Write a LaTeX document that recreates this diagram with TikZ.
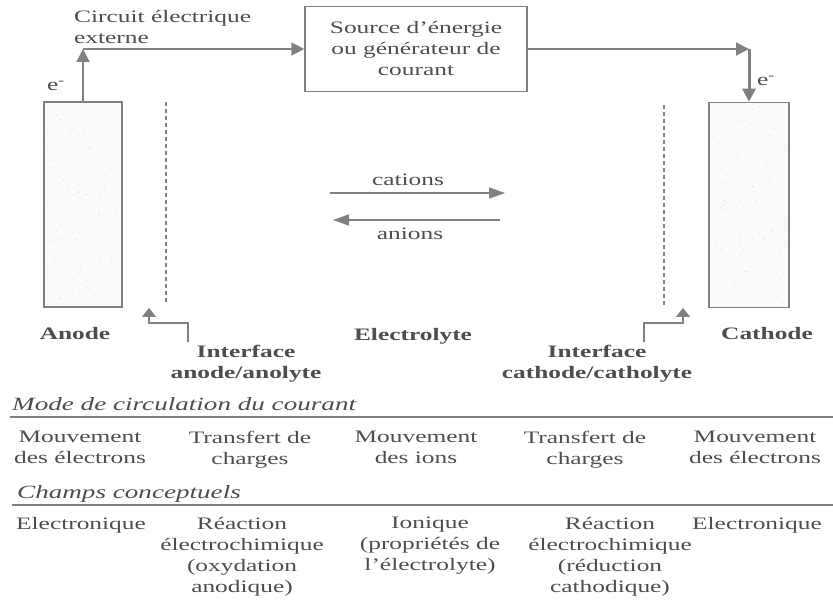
\documentclass[tikz,border=0pt]{standalone}
\usepackage{fontspec}
\setmainfont[FakeStretch=1.45]{Liberation Serif}
\usetikzlibrary{arrows.meta}
\definecolor{txt}{HTML}{4D4D4D}
\definecolor{ln}{HTML}{808080}
\newcommand\mainfs{\fontsize{17.5}{21}\selectfont}
\begin{document}
\begin{tikzpicture}[x=1pt,y=-1pt,
  every node/.style={inner sep=0pt,text=txt,font=\mainfs},
  wire/.style={draw=ln,line width=2pt,-{Triangle[length=13pt,width=13pt]}},
  ion/.style={draw=ln,line width=1.5pt,-{Triangle[length=16pt,width=11pt]}},
  ifarrow/.style={draw=ln,line width=2pt,-{Triangle[length=9pt,width=14pt]}},
  ifline/.style={draw=ln,line width=1.5pt,dash pattern=on 4pt off 3pt},
  rule/.style={draw=ln,line width=1.5pt},
  electrode/.style={draw=ln,line width=1.5pt,fill=white!96!gray,minimum width=#1,minimum height=205pt},
  boldlab/.style={font=\mainfs\bfseries},
  itlab/.style={font=\fontsize{18.7}{21}\selectfont\itshape,anchor=base west},
  col/.style={align=center,anchor=north}]
\useasboundingbox (0,0) rectangle (833,601);

% source box
\node[draw=ln,line width=1.5pt,minimum width=222pt,minimum height=85pt,align=center] (src) at (416,49) {Source d’énergie\\ou générateur de\\courant};

% electrodes
\node[electrode=78pt] (anode) at (83,204.5) {};
\node[electrode=80pt] (cathode) at (749,205) {};
\pgfmathsetseed{7}
\foreach \i in {1,...,220}{\fill[gray!22] ({47+72*rnd},{106+198*rnd}) circle (0.6pt);}
\foreach \i in {1,...,220}{\fill[gray!22] ({712+74*rnd},{106+198*rnd}) circle (0.6pt);}

% external circuit
\coordinate (cl) at (anode.north |- src.west);
\coordinate (cr) at (cathode.north |- src.east);
\draw[wire] (anode.north) -- (cl);
\draw[wire] (cl) -- (src.west);
\draw[wire] (src.east) -- (cr);
\draw[wire,line width=3pt] (cr) -- (cathode.north);
\node[anchor=north west,align=left] (circ) at (74,10.5) {Circuit électrique\\externe};
\node (el) at (56,86) {e\textsuperscript{-}};
\node (er) at (766,81) {e\textsuperscript{-}};

% interfaces (dashed)
\coordinate (dla) at (166,102);
\coordinate (dlb) at (166,304);
\coordinate (dra) at (664,105);
\coordinate (drb) at (664,305);
\draw[ifline] (dla) -- (dlb);
\draw[ifline] (dra) -- (drb);

% ions
\coordinate (ca1) at (330,193);
\coordinate (ca2) at (505,193);
\coordinate (an1) at (500,220);
\coordinate (an2) at (333,220);
\draw[ion] (ca1) -- (ca2);
\draw[ion] (an1) -- (an2);
\node (cat) at (408,180) {cations};
\node (ani) at (410,234) {anions};

% labels
\node[boldlab,anchor=base] (lanode) at (75,340) {Anode};
\node[boldlab,anchor=base] (lelec) at (413,341) {Electrolyte};
\node[boldlab,anchor=base] (lcath) at (767,340) {Cathode};
\node[boldlab,col] (ifl) at (246,345) {Interface\\anode/anolyte};
\node[boldlab,col] (ifr) at (597,345) {Interface\\cathode/catholyte};

% interface arrows
\coordinate (il0) at (188,342);
\coordinate (il1) at (188,323);
\coordinate (il2) at (149,323);
\coordinate (il3) at (149,308);
\draw[ifarrow] (il0) -- (il1) -- (il2) -- (il3);
\coordinate (ir0) at (644,342);
\coordinate (ir1) at (644,323);
\coordinate (ir2) at (683,323);
\coordinate (ir3) at (683,308);
\draw[ifarrow] (ir0) -- (ir1) -- (ir2) -- (ir3);

% table
\node[itlab] (mode) at (12,411) {Mode de circulation du courant};
\coordinate (r1a) at (10,417);
\coordinate (r1b) at (833,417);
\draw[rule] (r1a) -- (r1b);
\node[col] (m1) at (80,431) {Mouvement\\des électrons};
\node[col] (m2) at (250,431) {Transfert de\\charges};
\node[col] (m3) at (416,431) {Mouvement\\des ions};
\node[col] (m4) at (585,431) {Transfert de\\charges};
\node[col] (m5) at (755,431) {Mouvement\\des électrons};

\node[itlab] (champ) at (17,498) {Champs conceptuels};
\coordinate (r2a) at (12,505);
\coordinate (r2b) at (833,505);
\draw[rule] (r2a) -- (r2b);
\node[col] (c1) at (81,517) {Electronique};
\node[col] (c2) at (242,517) {Réaction\\électrochimique\\(oxydation\\anodique)};
\node[col] (c3) at (430,517) {Ionique\\(propriétés de\\l’électrolyte)};
\node[col] (c4) at (610,517) {Réaction\\électrochimique\\(réduction\\cathodique)};
\node[col] (c5) at (757,517) {Electronique};
\end{tikzpicture}
\end{document}
